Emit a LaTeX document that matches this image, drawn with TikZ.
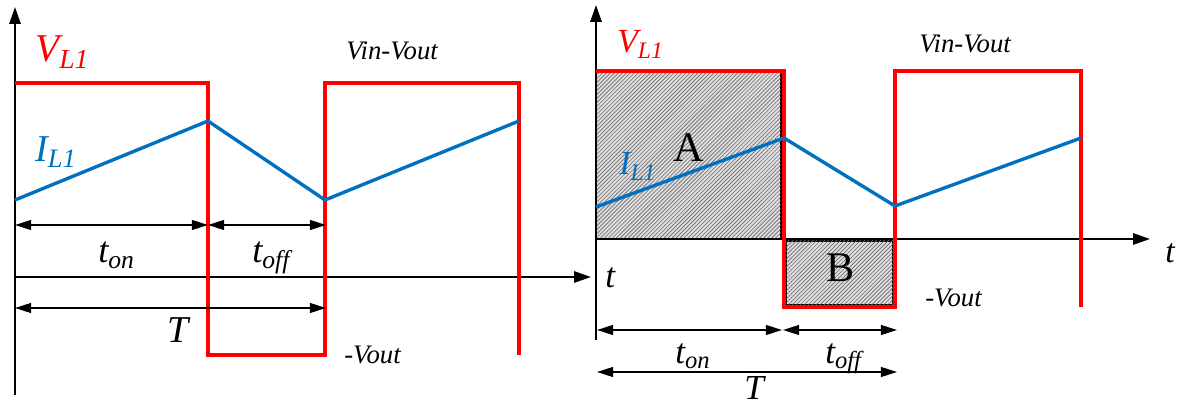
\documentclass[tikz,border=0pt]{standalone}
\usepackage{fontspec}
\setmainfont{Liberation Serif}
\usetikzlibrary{arrows.meta,patterns.meta}

\definecolor{vred}{RGB}{255,0,0}
\definecolor{iblue}{RGB}{0,112,192}

\begin{document}
\begin{tikzpicture}[
    x=0.025cm, y=-0.025cm,
    axis/.style={line width=1.4pt, -{Triangle[length=12pt, width=8pt]}},
    dim/.style={line width=1.3pt, {Triangle[length=11.5pt, width=7pt]}-{Triangle[length=11.5pt, width=7pt]}},
    volt/.style={line width=2.2pt, draw=vred, line join=miter},
    curr/.style={line width=2.4pt, draw=iblue, line join=round},
    area/.style={draw=black, line width=0.8pt, fill=gray!25,
        postaction={pattern={Lines[angle=45, distance=2pt, line width=0.45pt]}, pattern color=black!60}},
    lbl/.style={font=\fontsize{#1}{#1}\selectfont\itshape, inner sep=0pt, anchor=base west},
    big/.style={font=\fontsize{30pt}{30pt}\selectfont, inner sep=0pt, anchor=base west}
]
    \useasboundingbox (0,0) rectangle (1188,405);

    % --- LEFT: WAVEFORMS ON ONE TIME AXIS ---
    \draw[axis] (15,395) -- (15,7);
    \draw[axis] (15,277) -- (591,277);
    \draw[volt] (15,83) -- (208,83) -- (208,355) -- (325,355) -- (325,83) -- (519,83) -- (519,355);
    \draw[curr] (15,200) -- (208,121) -- (325,200) -- (519,121);

    \node[lbl=28pt, text=vred] (vl1) at (35,62) {V\textsubscript{L1}};
    \node[lbl=27pt, text=iblue] (il1) at (35,162) {I\textsubscript{L1}};
    \node[lbl=19pt] (vinout1) at (346,60) {Vin-Vout};
    \node[lbl=19pt] (vout1) at (344,363) {-Vout};
    \node[lbl=25pt] (tax1) at (605,288) {t};

    % time spans
    \coordinate (ona1) at (15,225);
    \coordinate (onb1) at (208,225);
    \coordinate (offb1) at (326,225);
    \coordinate (pa1) at (15,308);
    \coordinate (pb1) at (326,308);
    \draw[dim] (ona1) -- (onb1);
    \draw[dim] (onb1) -- (offb1);
    \draw[dim] (pa1) -- (pb1);
    \node[lbl=26pt] (ton1) at (98,263) {t\textsubscript{on}};
    \node[lbl=26pt] (toff1) at (252,263) {t\textsubscript{off}};
    \node[lbl=27pt] (per1) at (167,343) {T};

    % --- RIGHT: VOLT-SECOND AREAS ---
    \draw[area] (596,71) rectangle (781,239);
    \draw[area] (786,241) rectangle (893,305);
    \draw[axis] (596,340) -- (596,5);
    \draw[axis] (596,239) -- (1150,239);
    \draw[volt] (596,71) -- (784,71) -- (784,307) -- (895,307) -- (895,71) -- (1081,71) -- (1081,307);
    \draw[curr] (596,207) -- (784,138) -- (895,206) -- (1081,138);

    \node[lbl=24pt, text=vred] (vl2) at (617,53) {V\textsubscript{L1}};
    \node[lbl=24pt, text=iblue] (il2) at (619,175) {I\textsubscript{L1}};
    \node[big] (areaA) at (673,162) {A};
    \node[big] (areaB) at (826,282) {B};
    \node[lbl=19pt] (vinout2) at (919,53) {Vin-Vout};
    \node[lbl=19pt] (vout2) at (925,307) {-Vout};
    \node[lbl=24pt] (tax2) at (1165,263) {t};

    % time spans
    \coordinate (ona2) at (597,330);
    \coordinate (onb2) at (782,330);
    \coordinate (offa2) at (783,330);
    \coordinate (offb2) at (897,330);
    \coordinate (pa2) at (597,372);
    \coordinate (pb2) at (897,372);
    \draw[dim] (ona2) -- (onb2);
    \draw[dim] (offa2) -- (offb2);
    \draw[dim] (pa2) -- (pb2);
    \node[lbl=25pt] (ton2) at (675,363) {t\textsubscript{on}};
    \node[lbl=25pt] (toff2) at (825,363) {t\textsubscript{off}};
    \node[lbl=25pt] (per2) at (744,399) {T};
\end{tikzpicture}
\end{document}
